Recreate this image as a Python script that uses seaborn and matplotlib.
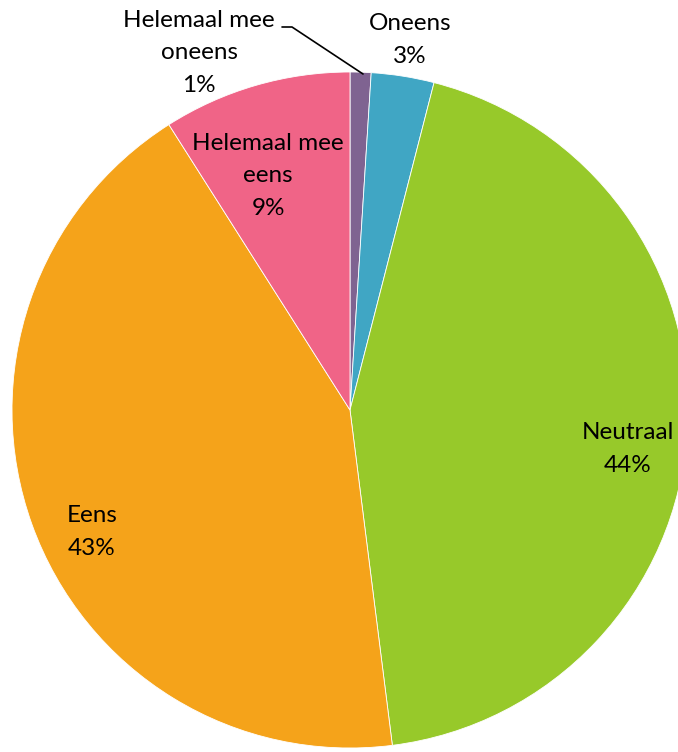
import matplotlib
matplotlib.use("Agg")
import matplotlib.pyplot as plt
import seaborn as sns

# Survey answers, clockwise from the top
categories = ["Helemaal mee oneens", "Oneens", "Neutraal", "Eens", "Helemaal mee eens"]
percentages = [1, 3, 44, 43, 9]
colors = ["#7F6391", "#40A6C4", "#97C92A", "#F5A31A", "#F06487"]

sns.set_theme(style="white")
plt.rcParams["font.family"] = ["Lato", "DejaVu Sans"]

W, H = 678, 752
CX, CY, R = 350, 410, 338  # pie centre and radius in pixels

fig = plt.figure(figsize=(W / 100, H / 100), dpi=100)
ax = fig.add_axes([0, 0, 1, 1])

ax.pie(percentages, colors=colors, startangle=90, counterclock=False,
       radius=1, center=(0, 0),
       wedgeprops=dict(edgecolor="white", linewidth=0.6))

ax.set_xlim(-CX / R, (W - CX) / R)
ax.set_ylim(-(H - CY) / R, CY / R)
ax.set_aspect("equal")
ax.axis("off")


def px(x, y):
    return (x - CX) / R, (CY - y) / R


def wrap(name):
    return name.replace("Helemaal mee ", "Helemaal mee\n")


# label centres in pixels
label_pos = {
    "Helemaal mee oneens": (199, 53),
    "Oneens": (410, 40),
    "Neutraal": (628, 449),
    "Eens": (92, 532),
    "Helemaal mee eens": (268, 176),
}

for name, pct in zip(categories, percentages):
    x, y = px(*label_pos[name])
    ax.text(x, y, f"{wrap(name)}\n{pct}%", ha="center", va="center",
            fontsize=17.5, linespacing=1.68, color="black")

# leader line for the smallest slice
lx = [px(282, 27)[0], px(292, 27)[0], px(363, 74)[0]]
ly = [px(282, 27)[1], px(292, 27)[1], px(363, 74)[1]]
ax.plot(lx, ly, color="black", linewidth=1.2, clip_on=False)

fig.savefig("out.png", dpi=100)
